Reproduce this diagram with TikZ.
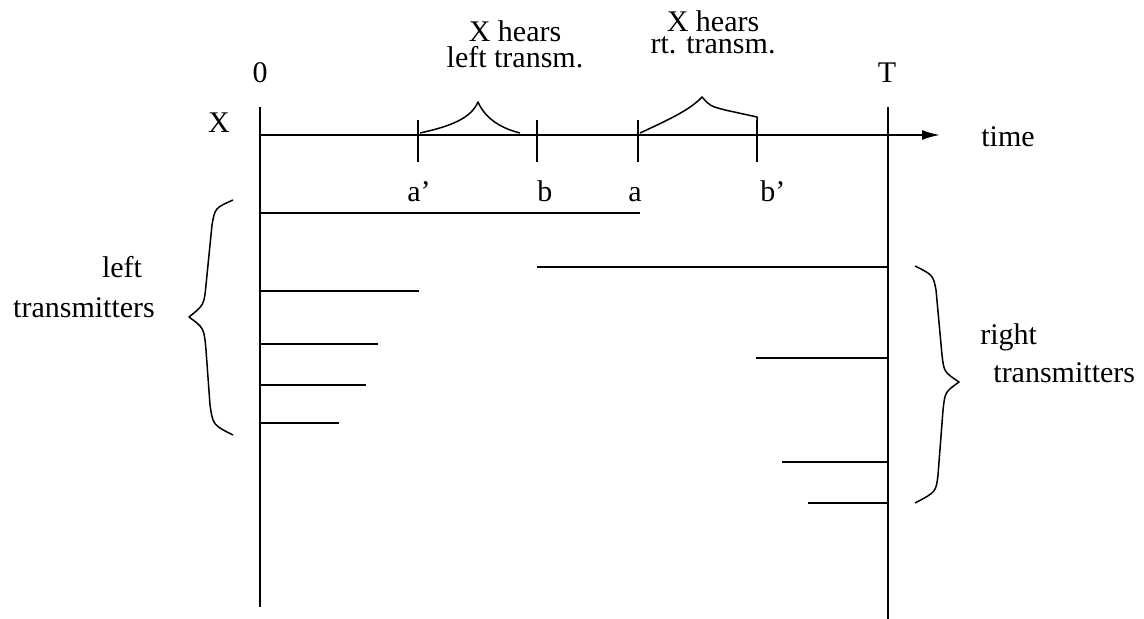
\documentclass[tikz,border=0pt]{standalone}
\usepackage{fontspec}
\setmainfont{Liberation Serif}
\usetikzlibrary{arrows.meta, positioning}

\begin{document}
\begin{tikzpicture}[
    x=0.5pt, y=-0.5pt,
    line/.style={line width=1pt},
    brace/.style={line width=0.75pt, line join=round},
    txt/.style={inner sep=0pt, align=center, font=\fontsize{15}{13}\selectfont},
    arrow/.style={-{Latex[length=9pt, width=5pt]}, line width=1pt}
]
\useasboundingbox (0,0) rectangle (1144,619);

% axes
\coordinate (xtop) at (260,107);
\coordinate (xbot) at (260,607);
\coordinate (ttop) at (888,107);
\coordinate (tbot) at (888,619);
\coordinate (t0) at (260,135);
\coordinate (tmax) at (940,135);

\draw[line] (xtop) -- (xbot);
\draw[line] (ttop) -- (tbot);
\draw[arrow] (t0) -- (tmax);

\node[txt, anchor=base] (zero) at (260,83) {0};
\node[txt, anchor=base] (tlabel) at (887,83) {T};
\node[txt, anchor=base] (xlabel) at (219,133) {X};
\node[txt, anchor=base] (time) at (1008,147) {time};

% ticks on the time line
\foreach \px in {418, 537, 638, 757}
    \draw[line] (\px,120) -- (\px,162);

\node[txt, anchor=base west] (aprime) at (407,202) {a’};
\node[txt, anchor=base west] (b) at (537,202) {b};
\node[txt, anchor=base west] (a) at (628,202) {a};
\node[txt, anchor=base west] (bprime) at (760,202) {b’};

% what X hears
\draw[brace] (420,133) .. controls (452,126) and (471,118) .. (478,102)
    .. controls (485,118) and (500,128) .. (520,133);
\draw[brace] (640,133) .. controls (668,120) and (690,110) .. (702,97)
    .. controls (710,106) .. (725,110) -- (757,117) -- (757,122);

\node[txt, anchor=base] (hearsleft) at (515,68) {X hears\\left transm.};
\node[txt, anchor=base, font=\fontsize{15}{11}\selectfont] (hearsright) at (713,54) {X hears\\rt. transm.};

% left transmitters
\foreach \py/\px in {213/640, 291/419, 344/378, 385/366, 423/339}
    \draw[line] (260,\py) -- (\px,\py);

\draw[brace] (233,200) .. controls (215,208) .. (212,225) -- (206,285)
    .. controls (204,305) .. (189,317) .. controls (204,328) .. (206,350)
    -- (210,405) .. controls (213,425) .. (233,435);

\node[txt, anchor=base] (leftword) at (122,278) {left};
\node[txt, anchor=base] (lefttr) at (84,318) {transmitters};

% right transmitters
\foreach \py/\px in {267/537, 358/756, 462/782, 503/808}
    \draw[line] (\px,\py) -- (888,\py);

\draw[brace] (915,266) .. controls (933,275) .. (936,290) -- (942,355)
    .. controls (944,372) .. (959,382) .. controls (945,392) .. (943,410)
    -- (938,475) .. controls (936,492) .. (915,503);

\node[txt, anchor=base west] (rightword) at (980,345) {right};
\node[txt, anchor=base west] (righttr) at (993,383) {transmitters};

\end{tikzpicture}
\end{document}
